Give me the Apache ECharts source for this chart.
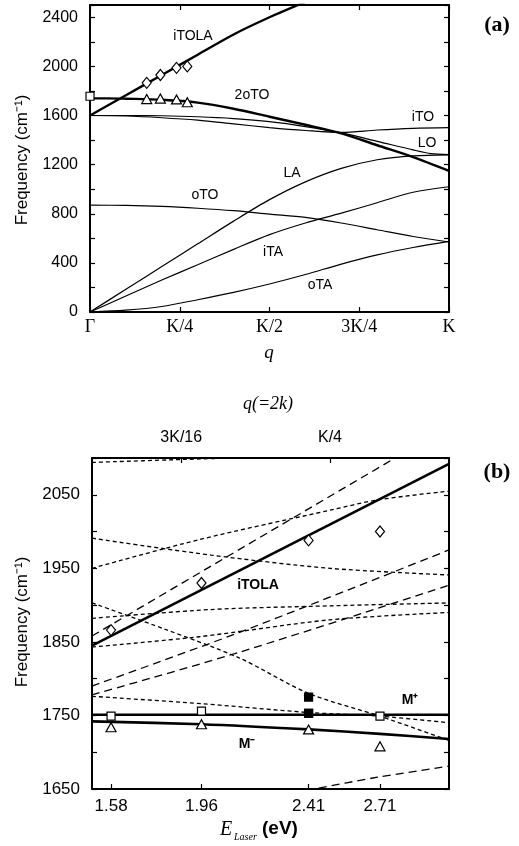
<!DOCTYPE html>
<html><head><meta charset="utf-8">
<script src="https://cdn.jsdelivr.net/npm/echarts@6/dist/echarts.min.js"></script>
<style>html,body{margin:0;padding:0;background:#fff}#c{width:519px;height:846px}</style>
</head><body><div id="c"></div>
<script>
// ---------- DATA ----------
const topTickNames = ['Γ', 'K/4', 'K/2', '3K/4', 'K'];
const bottomTicks = [1.58, 1.96, 2.41, 2.71];
const qTopTicks = [0.1875, 0.25];
const qTopTickNames = ['3K/16', 'K/4'];

// panel (a): phonon branches, [q (units of K), frequency]
const iTOLA_a = [[0,1600],[0.1,1765],[0.2,1930],[0.3,2095],[0.4,2260],[0.5,2400],[0.6,2525]];
const twoOTO = [[0,1740],[0.05,1740],[0.1,1737],[0.2,1728],[0.3,1705],[0.4,1655],[0.5,1590],[0.6,1525],[0.7,1455],[0.8,1358],[0.9,1262],[1.0,1150]];
const iTO = [[0,1600],[0.1,1596],[0.2,1582],[0.3,1562],[0.4,1532],[0.5,1502],[0.6,1478],[0.7,1462],[0.8,1482],[0.9,1496],[1.0,1502]];
const LO = [[0,1600],[0.1,1600],[0.2,1598],[0.3,1590],[0.4,1575],[0.5,1550],[0.6,1510],[0.7,1458],[0.8,1390],[0.9,1320],[0.95,1290],[1.0,1282]];
const oTO = [[0,870],[0.1,868],[0.2,860],[0.3,845],[0.4,825],[0.5,797],[0.6,770],[0.7,725],[0.8,670],[0.9,615],[1.0,570]];
const LA = [[0,0],[0.1,185],[0.2,370],[0.3,555],[0.4,740],[0.5,915],[0.6,1060],[0.7,1170],[0.8,1240],[0.9,1272],[1.0,1280]];
const iTA = [[0,0],[0.1,130],[0.2,260],[0.3,385],[0.4,510],[0.5,630],[0.6,725],[0.7,805],[0.8,890],[0.9,975],[1.0,1020]];
const oTA = [[0,0],[0.1,15],[0.2,45],[0.3,100],[0.4,160],[0.5,228],[0.6,305],[0.7,390],[0.8,465],[0.9,525],[1.0,575]];
const gammaSquare = [[0,1757]];

// experimental points vs laser energy (eV)
const diamondFreq = [1866, 1930, 1988, 2000];
const triangleFreq = [1734, 1738, 1731, 1708];
const squareFreq = [1749, 1756, 1753, 1749];
const filledSquare = [[2.41, 1775], [2.41, 1753]];

// panel (b): [E_laser, frequency]
const iTOLA_b = [[1.5,1845],[3.0,2092]];
const Mplus = [[1.5,1751],[3.0,1751]];
const Mminus = [[1.5,1742],[1.96,1738],[2.41,1731],[2.71,1725],[3.0,1718]];
const sdTop = [[1.5,2094],[1.88,2098],[2.1,2100],[2.45,2102]];
const sdA = [[1.5,1991],[2.0,1968],[2.5,1950],[3.0,1941]];
const sdB = [[1.5,1950],[1.95,1989],[2.5,2029],[2.7,2043],[3.0,2055]];
const sdE = [[1.5,1882],[2.0,1894],[2.5,1899],[3.0,1903]];
const sdF = [[1.5,1843],[1.95,1857],[2.5,1880],[3.0,1890]];
const sdH = [[1.5,1903],[1.8,1868],[2.12,1828],[2.41,1780],[2.71,1749],[3.0,1716]];
const sdI = [[1.5,1776],[1.96,1766],[2.41,1754],[2.71,1749],[3.0,1740]];
const ldC = [[1.5,1858],[2.8,2105]];
const ldD = [[1.5,1790],[2.12,1863],[3.0,1975]];
const ldG = [[1.5,1778],[2.12,1836],[3.0,1927]];
const ldJ = [[2.4,1648],[2.7,1666],[3.0,1681]];

// ---------- CHART ----------
const chart = echarts.init(document.getElementById('c'), null, {renderer: 'canvas'});
const SANS = 'Liberation Sans, Arial, sans-serif';
const SERIF = 'Liberation Serif, Times New Roman, serif';
const SHORT = [4, 3], LONG = [8, 5];

function ln(data, xi, yi, w, type, smooth) {
  return {type: 'line', data: data, xAxisIndex: xi, yAxisIndex: yi, symbol: 'none',
    smooth: smooth || false, silent: true, animation: false, clip: true,
    lineStyle: {color: '#000', width: w, type: type || 'solid'}, z: 3};
}
function pts(data, xi, yi, symbol, size, filled) {
  return {type: 'scatter', data: data, xAxisIndex: xi, yAxisIndex: yi, symbol: symbol,
    symbolSize: size, silent: true, animation: false, z: 5,
    itemStyle: {color: filled ? '#000' : '#fff', borderColor: '#000', borderWidth: 1.2, opacity: 1}};
}
const frame = {show: true, onZero: false, lineStyle: {color: '#000', width: 2}};
const tick = {show: true, inside: true, length: 5, lineStyle: {color: '#000', width: 1.2}};

const qOf = e => e / 10;
const diamondsA = bottomTicks.map((e, i) => [qOf(e), diamondFreq[i]]);
const trianglesA = bottomTicks.map((e, i) => [qOf(e), triangleFreq[i]]);
const diamondsB = bottomTicks.map((e, i) => [e, diamondFreq[i]]);
const trianglesB = bottomTicks.map((e, i) => [e, triangleFreq[i]]);
const squaresB = bottomTicks.map((e, i) => [e, squareFreq[i]]);

const option = {
  backgroundColor: '#fff',
  animation: false,
  grid: [
    {left: 90, top: 5, width: 359, height: 307},
    {left: 92, top: 458, width: 357, height: 331}
  ],
  xAxis: [
    {gridIndex: 0, type: 'value', position: 'bottom', min: 0, max: 1, interval: 0.25,
      axisLine: frame, axisTick: tick, splitLine: {show: false},
      axisLabel: {margin: 6, color: '#000', fontFamily: SERIF, fontSize: 18,
        formatter: v => topTickNames[Math.round(v * 4)]}},
    {gridIndex: 0, type: 'value', position: 'top', min: 0, max: 1, interval: 0.25,
      axisLine: frame, axisTick: tick, splitLine: {show: false}, axisLabel: {show: false}},
    {gridIndex: 1, type: 'value', position: 'bottom', min: 1.5, max: 3.0,
      axisLine: frame, splitLine: {show: false},
      axisTick: Object.assign({customValues: bottomTicks}, tick),
      axisLabel: {customValues: bottomTicks, margin: 9, color: '#000', fontFamily: SANS, fontSize: 17,
        formatter: v => v.toFixed(2)}},
    {gridIndex: 1, type: 'value', position: 'top', min: 0.15, max: 0.30,
      axisLine: frame, splitLine: {show: false},
      axisTick: Object.assign({customValues: qTopTicks}, tick),
      axisLabel: {customValues: qTopTicks, margin: 12, color: '#000', fontFamily: SANS, fontSize: 16,
        formatter: v => qTopTickNames[qTopTicks.findIndex(t => Math.abs(t - v) < 1e-6)]}}
  ],
  yAxis: [
    {gridIndex: 0, type: 'value', position: 'left', min: 0, max: 2500, interval: 200,
      axisLine: frame, axisTick: tick, splitLine: {show: false},
      axisLabel: {margin: 12, color: '#000', fontFamily: SANS, fontSize: 16,
        formatter: v => (v % 400 === 0 ? String(v) : '')}},
    {gridIndex: 0, type: 'value', position: 'right', min: 0, max: 2500, interval: 200,
      axisLine: frame, axisTick: tick, splitLine: {show: false}, axisLabel: {show: false}},
    {gridIndex: 1, type: 'value', position: 'left', min: 1650, max: 2100, interval: 50,
      axisLine: frame, axisTick: tick, splitLine: {show: false},
      axisLabel: {margin: 12, color: '#000', fontFamily: SANS, fontSize: 17,
        formatter: v => ((v - 1650) % 100 === 0 ? String(v) : '')}},
    {gridIndex: 1, type: 'value', position: 'right', min: 1650, max: 2100, interval: 50,
      axisLine: frame, axisTick: tick, splitLine: {show: false}, axisLabel: {show: false}}
  ],
  series: [
    // panel (a)
    ln(iTOLA_a, 0, 0, 2.4, 'solid', 0.3),
    ln(twoOTO, 0, 0, 2.4, 'solid', 0.3),
    ln(iTO, 0, 0, 1.2, 'solid', 0.3),
    ln(LO, 0, 0, 1.2, 'solid', 0.3),
    ln(oTO, 0, 0, 1.2, 'solid', 0.3),
    ln(LA, 0, 0, 1.2, 'solid', 0.3),
    ln(iTA, 0, 0, 1.2, 'solid', 0.3),
    ln(oTA, 0, 0, 1.2, 'solid', 0.3),
    pts(diamondsA, 0, 0, 'diamond', [9, 11], false),
    pts(trianglesA, 0, 0, 'triangle', [10, 9], false),
    pts(gammaSquare, 0, 0, 'rect', [8, 8], false),
    // panel (b)
    ln(sdTop, 2, 2, 1.3, SHORT, 0.3),
    ln(sdA, 2, 2, 1.3, SHORT, 0.3),
    ln(sdB, 2, 2, 1.3, SHORT, 0.3),
    ln(sdE, 2, 2, 1.3, SHORT, 0.3),
    ln(sdF, 2, 2, 1.3, SHORT, 0.3),
    ln(sdH, 2, 2, 1.3, SHORT, 0.3),
    ln(sdI, 2, 2, 1.3, SHORT, 0.3),
    ln(ldC, 2, 2, 1.3, LONG),
    ln(ldD, 2, 2, 1.3, LONG, 0.3),
    ln(ldG, 2, 2, 1.3, LONG, 0.3),
    ln(ldJ, 2, 2, 1.3, LONG, 0.3),
    ln(iTOLA_b, 2, 2, 2.6),
    ln(Mplus, 2, 2, 2.6),
    ln(Mminus, 2, 2, 2.6, 'solid', 0.3),
    pts(diamondsB, 2, 2, 'diamond', [9, 11], false),
    pts(trianglesB, 2, 2, 'triangle', [10, 9], false),
    pts(squaresB, 2, 2, 'rect', [8, 8], false),
    pts(filledSquare, 2, 2, 'rect', [8, 8], true)
  ],
  graphic: [
    {type: 'text', x: 22, y: 160, rotation: Math.PI / 2, style: {text: 'Frequency (cm⁻¹)', font: '17px ' + SANS, fill: '#000', align: 'center', verticalAlign: 'middle'}},
    {type: 'text', x: 22, y: 622, rotation: Math.PI / 2, style: {text: 'Frequency (cm⁻¹)', font: '17px ' + SANS, fill: '#000', align: 'center', verticalAlign: 'middle'}},
    {type: 'text', x: 269, y: 353, style: {text: 'q', font: 'italic 19px ' + SERIF, fill: '#000', align: 'center', verticalAlign: 'middle'}},
    {type: 'text', x: 268, y: 404, style: {text: 'q(=2k)', font: 'italic 18px ' + SERIF, fill: '#000', align: 'center', verticalAlign: 'middle'}},
    {type: 'text', x: 497, y: 25, style: {text: '(a)', font: 'bold 22px ' + SERIF, fill: '#000', align: 'center', verticalAlign: 'middle'}},
    {type: 'text', x: 497, y: 472, style: {text: '(b)', font: 'bold 22px ' + SERIF, fill: '#000', align: 'center', verticalAlign: 'middle'}},
    // branch labels (a)
    {type: 'text', x: 193, y: 36, style: {text: 'iTOLA', font: '14px ' + SANS, fill: '#000', align: 'center', verticalAlign: 'middle'}},
    {type: 'text', x: 252, y: 95, style: {text: '2oTO', font: '14px ' + SANS, fill: '#000', align: 'center', verticalAlign: 'middle'}},
    {type: 'text', x: 423, y: 117, style: {text: 'iTO', font: '14px ' + SANS, fill: '#000', align: 'center', verticalAlign: 'middle'}},
    {type: 'text', x: 427, y: 143, style: {text: 'LO', font: '14px ' + SANS, fill: '#000', align: 'center', verticalAlign: 'middle'}},
    {type: 'text', x: 292, y: 173, style: {text: 'LA', font: '14px ' + SANS, fill: '#000', align: 'center', verticalAlign: 'middle'}},
    {type: 'text', x: 205, y: 195, style: {text: 'oTO', font: '14px ' + SANS, fill: '#000', align: 'center', verticalAlign: 'middle'}},
    {type: 'text', x: 273, y: 252, style: {text: 'iTA', font: '14px ' + SANS, fill: '#000', align: 'center', verticalAlign: 'middle'}},
    {type: 'text', x: 320, y: 285, style: {text: 'oTA', font: '14px ' + SANS, fill: '#000', align: 'center', verticalAlign: 'middle'}},
    // labels (b)
    {type: 'text', x: 258, y: 585, style: {text: 'iTOLA', font: 'bold 14px ' + SANS, fill: '#000', align: 'center', verticalAlign: 'middle'}},
    {type: 'text', x: 410, y: 700, style: {text: 'M⁺', font: 'bold 14px ' + SANS, fill: '#000', align: 'center', verticalAlign: 'middle'}},
    {type: 'text', x: 247, y: 744, style: {text: 'M⁻', font: 'bold 14px ' + SANS, fill: '#000', align: 'center', verticalAlign: 'middle'}},
    // x title (b)
    {type: 'text', x: 220, y: 830, style: {text: 'E', font: 'italic 20px ' + SERIF, fill: '#000', align: 'left', verticalAlign: 'middle'}},
    {type: 'text', x: 234, y: 837, style: {text: 'Laser', font: 'italic 10px ' + SERIF, fill: '#000', align: 'left', verticalAlign: 'middle'}},
    {type: 'text', x: 262, y: 829, style: {text: '(eV)', font: 'bold 19px ' + SANS, fill: '#000', align: 'left', verticalAlign: 'middle'}}
  ]
};
chart.setOption(option);
</script>
</body></html>
